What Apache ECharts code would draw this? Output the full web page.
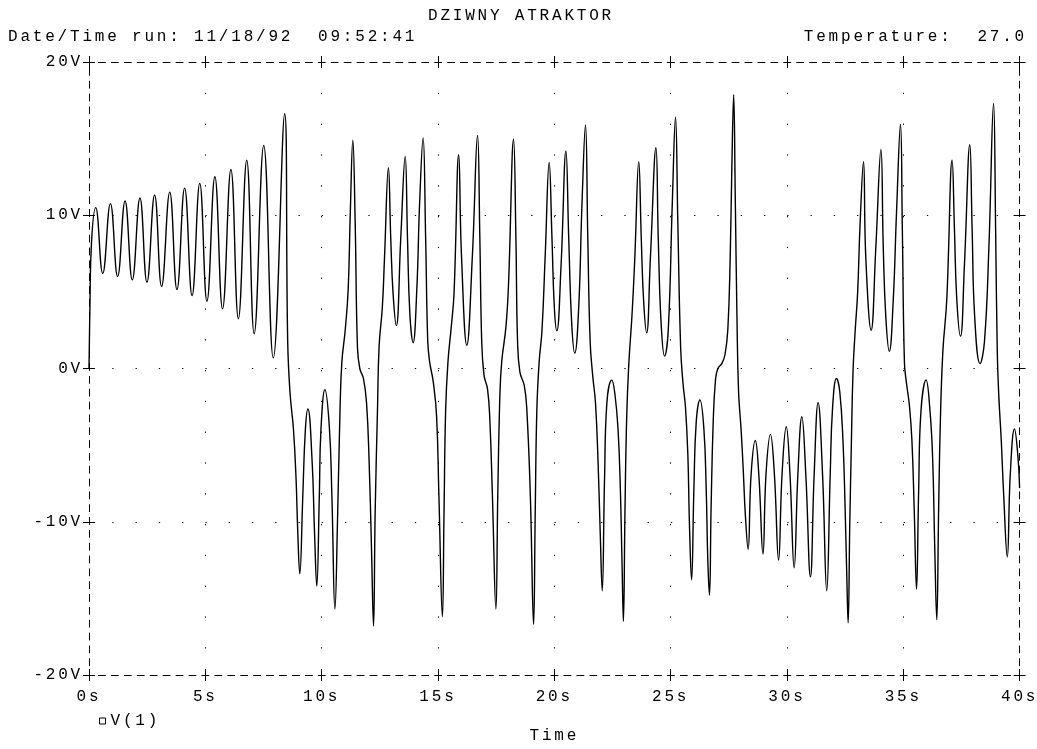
<!DOCTYPE html>
<html><head><meta charset="utf-8">
<script src="https://cdn.jsdelivr.net/npm/echarts@6/dist/echarts.min.js"></script>
<style>html,body{margin:0;padding:0;background:#fff}#main{width:1037px;height:749px}</style>
</head><body><div id="main"></div>
<script>
// ---- data ----
const timeS = [
  0, 0.04, 0.1, 0.29, 0.59, 0.92, 1.23, 1.55, 1.86, 2.19, 2.49, 2.82, 3.12, 3.47, 3.78, 4.11, 4.43, 4.76, 5.07, 5.41, 5.74, 6.10, 6.42, 6.78, 7.10, 7.51, 7.92, 8.41,
  8.54, 8.64, 8.79, 8.9, 8.97, 9.06, 9.19, 9.3, 9.41, 9.59, 9.69, 9.79, 9.9, 9.97, 10.14, 10.33, 10.44, 10.57,
  10.69, 10.79, 10.87, 11.01, 11.14, 11.23, 11.34, 11.44, 11.54, 11.64, 11.8, 11.93, 12.04, 12.14, 12.23,
  12.3, 12.4, 12.47, 12.61, 12.7, 12.87, 12.97, 13.07, 13.21, 13.4, 13.59, 13.69, 13.79, 13.93,
  14.09, 14.21, 14.36, 14.47, 14.56, 14.64, 14.8, 14.94, 15.04, 15.19,
  15.26, 15.33, 15.43, 15.57, 15.69, 15.89, 16.01, 16.24,
  16.48, 16.7, 16.8, 16.88, 16.98, 17.13, 17.23, 17.34, 17.49,
  17.57, 17.66, 17.74, 17.92, 18.03, 18.25, 18.35, 18.42, 18.52, 18.71, 18.82, 18.97, 19.11,
  19.18, 19.25, 19.35, 19.47, 19.61, 19.78, 19.9, 20.0, 20.11, 20.29, 20.5, 20.62, 20.75, 20.88,
  21.05, 21.19, 21.34, 21.44, 21.54, 21.65, 21.77, 21.88, 21.97, 22.06, 22.16, 22.26, 22.47,
  22.6, 22.74, 22.84, 22.91, 22.97, 23.04, 23.11, 23.2, 23.34, 23.46, 23.63, 23.74, 23.84, 23.97,
  24.13, 24.37, 24.47, 24.59, 24.74, 24.9, 25.07, 25.21,
  25.31, 25.43, 25.53, 25.64, 25.74, 25.81, 25.9, 26.0, 26.1, 26.26, 26.43, 26.53, 26.6, 26.67,
  26.74, 26.83, 26.93, 27.03, 27.21, 27.34, 27.46, 27.56, 27.63, 27.71,
  27.78, 27.85, 27.92, 28.03, 28.13, 28.21, 28.33,
  28.46, 28.64, 28.79, 28.97, 29.1, 29.29, 29.46, 29.64, 29.79, 29.97, 30.13, 30.31, 30.47, 30.64,
  30.81, 31.01, 31.17, 31.34, 31.53, 31.71, 31.86, 31.96, 32.13,
  32.27, 32.41, 32.5, 32.57, 32.63, 32.7, 32.77, 32.84, 32.93, 33.04, 33.14, 33.29,
  33.39, 33.62, 33.82, 34.04, 34.14, 34.25, 34.4, 34.57, 34.71, 34.88,
  34.96, 35.05, 35.14, 35.26, 35.37, 35.47, 35.57, 35.66, 35.76, 35.98,
  36.15, 36.26, 36.35, 36.44, 36.52, 36.59, 36.7, 36.87, 37.1, 37.2, 37.3, 37.46,
  37.63, 37.86, 37.96, 38.07, 38.3, 38.49, 38.68, 38.88,
  38.97, 39.04, 39.11, 39.21, 39.31, 39.47, 39.6, 39.78, 39.93, 40.0
];
const voltV = [
  0, 4.0, 8.0, 10.5, 6.2, 10.76, 6.0, 10.93, 5.78, 11.13, 5.63, 11.32, 5.35, 11.51, 5.15, 11.77, 4.76, 12.08, 4.39, 12.51, 3.9, 12.99, 3.25, 13.59, 2.27, 14.55, 0.69, 16.62,
  1.79, -1.57, -4.0, -7.2, -10.5, -13.4, -8.3, -4.0, -2.64, -6.05, -10.5, -14.2, -8.3, -4.0, -1.39, -3.8, -8.3, -15.7,
  -9.4, -2.7, 0.45, 2.46, 5.15, 10.1, 14.9, 9.6, 1.34, 0, -0.67, -2.24, -6.05, -11.6, -16.8,
  -9.4, -2.7, 1.46, 4.03, 7.17, 13.1, 8.5, 4.9, 2.8, 8.5, 13.84, 8.5, 3.6, 1.68,
  5.15, 10.75, 15.05, 8.5, 1.79, 0.45, -0.9, -3.1, -8.3, -16.2,
  -9.4, -2.7, 0.45, 2.7, 4.9, 13.95, 7.4, 1.52,
  7.4, 15.2, 8.5, 1.79, -0.45, -1.34, -3.36, -8.3, -15.7,
  -8.3, -1.8, 0.45, 2.7, 5.4, 14.96, 8.5, 1.79, -0.22, -1.12, -2.7, -8.3, -16.7,
  -9.4, -2.7, 0.45, 2.46, 7.4, 13.44, 8.5, 4.03, 2.46, 6.7, 14.2, 8.5, 2.9, 1.0,
  4.03, 10.75, 15.9, 8.5, 1.79, -0.45, -2.24, -6.05, -10.5, -14.5, -7.2, -2.24, -0.76,
  -1.6, -3.95, -7.9, -12.6, -16.5, -9.07, -3.26, 0.23, 3.49, 7.2, 13.5, 8.4, 4.4, 2.33,
  7.2, 14.4, 8.4, 3.0, 0.81, 2.56, 10.7, 16.4,
  9.5, 1.4, -0.93, -2.56, -5.6, -10.2, -13.8, -7.9, -3.5, -2.05, -3.95, -7.9, -12.6, -14.8,
  -9.07, -3.5, -0.7, 0, 0.35, 0.93, 2.56, 7.2, 13.0, 17.86,
  11.0, 3.5, -1.5, -4.0, -6.9, -9.5, -11.8,
  -6.9, -4.7, -6.9, -12.1, -6.9, -4.3, -6.9, -12.5, -6.9, -3.8, -6.9, -13.0, -6.9, -3.15,
  -6.9, -13.6, -6.9, -2.23, -6.9, -14.5, -6.9, -2.6, -0.65,
  -1.5, -4.8, -9.1, -13.4, -16.6, -10.2, -4.8, -0.2, 2.4, 5.0, 9.3, 13.5,
  7.2, 2.5, 7.9, 14.3, 7.9, 3.35, 1.12, 4.5, 10.2, 15.94,
  9.05, 0.39, -0.98, -2.35, -4.63, -9.2, -14.4, -8.05, -2.8, -0.75,
  -2.8, -5.77, -11.5, -16.4, -9.2, -3.7, 1.07, 4.5, 13.6, 9.05, 4.5, 2.1,
  6.8, 14.6, 9.05, 3.35, 0.32, 1.76, 7.9, 17.3,
  9.05, 1.07, -1.9, -4.63, -8.05, -12.3, -6.9, -3.95, -5.77, -7.8
];
const timeRange = [0, 40];   // s
const timeStep = 5;
const voltRange = [-20, 20]; // V
const voltStep = 10;
const seriesName = 'V(1)';
const titleText = 'DZIWNY ATRAKTOR';
const runText = 'Date/Time run: 11/18/92  09:52:41';
const tempText = 'Temperature:  27.0';
const xName = 'Time';

// wide plotter-like letter spacing for all canvas text
(function () {
  const p = CanvasRenderingContext2D.prototype;
  const f = p.fillText;
  p.fillText = function () {
    try { this.letterSpacing = '2.8px'; } catch (e) {}
    return f.apply(this, arguments);
  };
})();

const FONT = 'Liberation Mono';
const FS = 16;
const gridW = 931, gridH = 616;
const xDashP = gridW / ((timeRange[1] - timeRange[0]) / timeStep * 9);
const yDashP = gridH / ((voltRange[1] - voltRange[0]) / voltStep * 12);
const xBorder = { show: true, onZero: false, lineStyle: { color: '#000', width: 1, type: [7, xDashP - 7], dashOffset: 3.5 } };
const yBorder = { show: true, onZero: false, lineStyle: { color: '#000', width: 1, type: [7, yDashP - 7], dashOffset: 3.5 } };
const tickStyle = { color: '#000', width: 1 };

function xAx(pos, inside, withLabel) {
  const a = {
    type: 'value', min: timeRange[0], max: timeRange[1], interval: timeStep, position: pos,
    axisLine: inside ? { show: false, onZero: false } : xBorder,
    axisTick: { show: true, inside: inside, length: 6, lineStyle: tickStyle },
    axisLabel: { show: withLabel, formatter: '{value}s', margin: 14, color: '#000', fontFamily: FONT, fontSize: FS, showMinLabel: true, showMaxLabel: true },
    splitLine: { show: false }
  };
  if (withLabel) {
    a.name = xName; a.nameLocation = 'middle'; a.nameGap = 53;
    a.nameTextStyle = { color: '#000', fontFamily: FONT, fontSize: FS };
    a.splitLine = { show: true, showMinLine: false, showMaxLine: false, lineStyle: { color: '#000', width: 1, type: [1.3, gridH / 20 - 1.3] } };
  }
  return a;
}
function yAx(pos, inside, withLabel) {
  const a = {
    type: 'value', min: voltRange[0], max: voltRange[1], interval: voltStep, position: pos,
    axisLine: inside ? { show: false, onZero: false } : yBorder,
    axisTick: { show: true, inside: inside, length: 6, lineStyle: tickStyle },
    axisLabel: { show: withLabel, formatter: '{value}V', margin: 6, color: '#000', fontFamily: FONT, fontSize: FS, showMinLabel: true, showMaxLabel: true },
    splitLine: { show: false }
  };
  if (withLabel) {
    a.splitLine = { show: true, showMinLine: false, showMaxLine: false, lineStyle: { color: '#000', width: 1, type: [1.3, gridW / 40 - 1.3] } };
  }
  return a;
}

const chart = echarts.init(document.getElementById('main'), null, { renderer: 'canvas' });
chart.setOption({
  animation: false,
  backgroundColor: '#fff',
  grid: { left: 89, right: 17, top: 62, bottom: 71, containLabel: false },
  xAxis: [xAx('bottom', false, true), xAx('bottom', true, false), xAx('top', false, false), xAx('top', true, false)],
  yAxis: [yAx('left', false, true), yAx('left', true, false), yAx('right', false, false), yAx('right', true, false)],
  legend: {
    left: 99, top: 713, padding: 0, itemWidth: 6, itemHeight: 6, itemGap: 10, selectedMode: false,
    textStyle: { color: '#000', fontFamily: FONT, fontSize: FS },
    data: [{ name: seriesName, icon: 'rect', itemStyle: { color: '#fff', borderColor: '#000', borderWidth: 1 } }]
  },
  graphic: [
    { type: 'text', x: 521, y: 16, style: { text: titleText, align: 'center', verticalAlign: 'middle', fill: '#000', font: FS + 'px "' + FONT + '"' } },
    { type: 'text', x: 8, y: 36.5, style: { text: runText, align: 'left', verticalAlign: 'middle', fill: '#000', font: FS + 'px "' + FONT + '"' } },
    { type: 'text', x: 1027, y: 36.5, style: { text: tempText, align: 'right', verticalAlign: 'middle', fill: '#000', font: FS + 'px "' + FONT + '"' } }
  ],
  series: [{
    name: seriesName, type: 'line', xAxisIndex: 0, yAxisIndex: 0,
    data: timeS.map((t, i) => [t, voltV[i]]),
    showSymbol: false, smooth: 0.45,
    lineStyle: { color: '#000', width: 1.4 },
    itemStyle: { color: '#000' }
  }]
});
</script></body></html>
